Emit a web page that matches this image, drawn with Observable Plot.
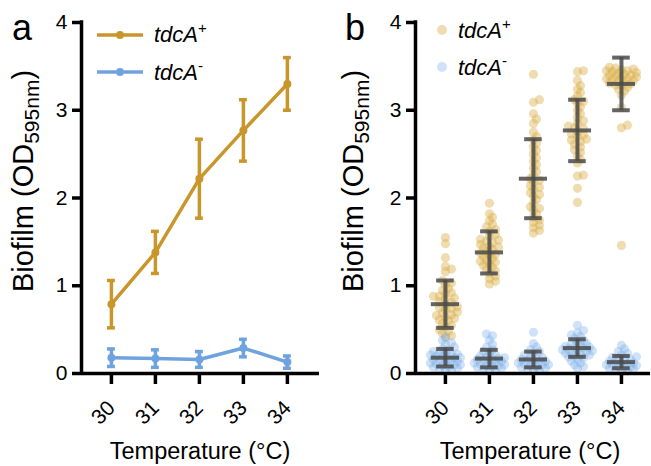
<!DOCTYPE html>
<html><head><meta charset="utf-8">
<script src="https://cdn.jsdelivr.net/npm/d3@7"></script>
<script src="https://cdn.jsdelivr.net/npm/@observablehq/plot@0.6"></script>
<style>
body{margin:0;background:#fff;font-family:"Liberation Sans",Arial,sans-serif;}
#wrap{position:relative;width:651px;height:466px;overflow:hidden;}
#wrap > svg{position:absolute;top:0;}
</style></head><body><div id="wrap"></div>
<script>
// ---- data ----
const temps = [30, 31, 32, 33, 34];
const tempLabels = ["30", "31", "32", "33", "34"];
const yTicks = [0, 1, 2, 3, 4];
const meanPlus = [0.79, 1.38, 2.22, 2.77, 3.30];
const sdPlus = [0.27, 0.24, 0.45, 0.35, 0.30];
const meanMinus = [0.18, 0.17, 0.16, 0.29, 0.13];
const sdMinus = [0.10, 0.10, 0.09, 0.10, 0.07];
const seriesNames = ["tdcA", "tdcA"];
const seriesSup = ["+", "-"];
const xLabel = "Temperature (°C)";
const yLabelMain = "Biofilm (OD";
const yLabelSub = "595nm";

// individual replicates (panel b)
const plus30 = [1.55,1.48,1.32,1.22,1.19,1.16,1.06,1.03,1.01,0.97,0.95,0.92,0.91,0.88,0.86,0.85,0.82,0.81,0.79,0.76,0.75,0.73,0.70,0.69,0.67,0.66,0.63,0.61,0.60,0.57,0.55,0.53,0.50,0.48,0.46,0.43,0.41,0.88,0.74,0.64];
const plus31 = [1.94,1.82,1.78,1.74,1.70,1.67,1.64,1.62,1.58,1.56,1.53,1.51,1.49,1.47,1.45,1.43,1.41,1.39,1.37,1.35,1.33,1.31,1.29,1.27,1.25,1.23,1.21,1.19,1.17,1.14,1.11,1.08,1.05,1.02,1.44,1.36,1.28,1.52];
const plus32 = [3.41,3.12,3.09,2.96,2.90,2.85,2.75,2.70,2.66,2.62,2.58,2.54,2.50,2.46,2.42,2.38,2.34,2.30,2.26,2.22,2.18,2.14,2.10,2.06,2.02,1.98,1.94,1.90,1.86,1.82,1.78,1.75,1.72,1.69,1.66,1.63,1.60,2.20,2.12,2.04,1.88];
const plus33 = [3.45,3.44,3.34,3.28,3.24,3.20,3.16,3.12,3.08,3.04,3.00,2.96,2.92,2.88,2.85,2.82,2.79,2.76,2.73,2.70,2.67,2.64,2.61,2.58,2.55,2.52,2.48,2.44,2.40,2.26,2.25,2.11,1.95,2.80,2.72,2.66,3.10];
const plus34 = [3.49,3.48,3.47,3.46,3.45,3.44,3.43,3.42,3.41,3.40,3.39,3.38,3.37,3.36,3.35,3.34,3.33,3.32,3.31,3.30,3.29,3.28,3.26,3.24,3.22,3.17,3.03,2.83,2.80,1.46,3.45,3.40,3.36];
const minus30 = [0.42,0.38,0.35,0.33,0.30,0.28,0.27,0.25,0.24,0.23,0.22,0.21,0.20,0.19,0.18,0.17,0.16,0.15,0.14,0.13,0.12,0.11,0.10,0.09,0.08,0.07,0.06,0.05,0.04,0.03,0.22,0.18,0.14,0.10];
const minus31 = [0.45,0.43,0.38,0.33,0.30,0.27,0.25,0.23,0.21,0.20,0.19,0.18,0.17,0.16,0.15,0.14,0.13,0.12,0.11,0.10,0.09,0.08,0.07,0.06,0.05,0.04,0.03,0.16,0.12,0.09];
const minus32 = [0.47,0.34,0.30,0.27,0.25,0.23,0.21,0.19,0.18,0.17,0.16,0.15,0.14,0.13,0.12,0.11,0.10,0.09,0.08,0.07,0.06,0.05,0.04,0.03,0.14,0.10];
const minus33 = [0.55,0.49,0.46,0.44,0.42,0.40,0.38,0.36,0.34,0.33,0.32,0.31,0.30,0.29,0.28,0.27,0.26,0.25,0.24,0.23,0.22,0.21,0.20,0.19,0.18,0.16,0.14,0.12,0.10,0.08,0.06,0.30,0.26];
const minus34 = [0.32,0.28,0.25,0.23,0.21,0.19,0.18,0.17,0.16,0.15,0.14,0.13,0.12,0.11,0.10,0.09,0.08,0.07,0.06,0.05,0.04,0.03,0.02,0.12,0.10,0.08];
const plusReps = [plus30, plus31, plus32, plus33, plus34];
const minusReps = [minus30, minus31, minus32, minus33, minus34];

// ---- styles ----
const GOLD = "#C9962B", BLUE = "#6FA3E0";
const GOLD_PT = "#D6AA3C", BLUE_PT = "#7AAFEA";
const BAR = "#4a4a4a";
const AX = 3.5;
const FONT = "Liberation Sans, Arial, sans-serif";

const summary = (means, sds) => temps.map((t, i) => ({t, m: means[i], s: sds[i]}));
const sumPlus = summary(meanPlus, sdPlus);
const sumMinus = summary(meanMinus, sdMinus);
const xTickData = temps.map((t, i) => ({t, label: tempLabels[i]}));

function baseMarks(xDom) {
  return [
    Plot.ruleX([xDom[0]], {y1: 0, y2: 4, strokeWidth: AX, strokeLinecap: "square"}),
    Plot.ruleY([0], {x1: xDom[0], x2: xDom[1], strokeWidth: AX}),
    Plot.axisY(yTicks, {tickSize: 9, strokeWidth: AX, tickPadding: 5, label: null, tickFormat: d => String(d), fontSize: 21, fill: "#000"}),
    Plot.axisX(temps, {tickSize: 11, strokeWidth: AX, label: null, tickFormat: () => ""}),
    Plot.text(xTickData, {x: "t", y: () => 0, text: "label", rotate: -45, textAnchor: "end", lineAnchor: "middle",
      dx: 0, dy: 31, fontSize: 21, fill: "#000"})
  ];
}

function addText(svg, panelLetter, legend) {
  const s = d3.select(svg);
  s.append("text").attr("x", panelLetter.x).attr("y", 40).attr("font-size", 36).attr("fill", "#000")
    .attr("text-anchor", "start").attr("font-family", FONT).text(panelLetter.t);
  const yl = s.append("text").attr("transform", "translate(33,181) rotate(-90)")
    .attr("text-anchor", "middle").attr("font-size", 29).attr("fill", "#000")
    .attr("font-family", FONT);
  yl.append("tspan").text(yLabelMain);
  yl.append("tspan").attr("font-size", 21).attr("dy", 6).text(yLabelSub);
  yl.append("tspan").attr("dy", -6).text(")");
  s.append("text").attr("x", 200).attr("y", 459).attr("text-anchor", "middle").attr("font-size", 23.5)
    .attr("fill", "#000").attr("font-family", FONT).text(xLabel);
  legend(s);
}

function legendText(s, x, y, i) {
  const t = s.append("text").attr("x", x).attr("y", y).attr("font-size", 22).attr("font-style", "italic")
    .attr("text-anchor", "start").attr("fill", "#000").attr("font-family", FONT);
  t.append("tspan").text(seriesNames[i]);
  t.append("tspan").attr("font-size", 15).attr("dy", -9).attr("font-style", "normal").text(seriesSup[i]);
}

const wrap = document.getElementById("wrap");

// ---- panel a ----
{
  const W = 330, H = 466, ml = 81, mr = 11, mt = 22, mb = 93;
  const xDom = [29.32, 34.73];
  const cap = 0.09;
  const serieMarks = (d, c) => [
    Plot.line(d, {x: "t", y: "m", stroke: c, strokeWidth: 3.5}),
    Plot.ruleX(d, {x: "t", y1: v => v.m - v.s, y2: v => v.m + v.s, stroke: c, strokeWidth: 3.5}),
    Plot.ruleY(d, {y: v => v.m + v.s, x1: v => v.t - cap, x2: v => v.t + cap, stroke: c, strokeWidth: 3.5}),
    Plot.ruleY(d, {y: v => v.m - v.s, x1: v => v.t - cap, x2: v => v.t + cap, stroke: c, strokeWidth: 3.5}),
    Plot.dot(d, {x: "t", y: "m", r: 4, fill: c})
  ];
  const chart = Plot.plot({
    width: W, height: H, marginLeft: ml, marginRight: mr, marginTop: mt, marginBottom: mb,
    style: {background: "transparent", fontFamily: FONT, color: "#000"},
    x: {domain: xDom}, y: {domain: [0, 4]},
    marks: [
      ...baseMarks(xDom),
      ...serieMarks(sumMinus, BLUE),
      ...serieMarks(sumPlus, GOLD)
    ]
  });
  chart.style.left = "0px";
  wrap.appendChild(chart);
  addText(chart, {x: 12, t: "a"}, s => {
    [[GOLD, 35, 42], [BLUE, 72, 80]].forEach(([c, ly, ty], i) => {
      s.append("line").attr("x1", 97).attr("x2", 143).attr("y1", ly).attr("y2", ly).attr("stroke", c).attr("stroke-width", 3.5);
      s.append("circle").attr("cx", 120).attr("cy", ly).attr("r", 4).attr("fill", c);
      legendText(s, 154, ty, i);
    });
  });
}

// ---- panel b ----
{
  const W = 321, H = 466, ml = 85, mr = 1, mt = 22, mb = 93;
  const xDom = [29.32, 34.66];
  const pxX = (W - ml - mr) / (xDom[1] - xDom[0]);
  const pxY = (H - mt - mb) / 4;
  function swarm(values, t, g) {
    const sorted = values.map(v => ({v, t, g})).sort((a, b) => a.v - b.v);
    const placed = [];
    const step = 3, minD = 4.6, maxOff = 15;
    for (const p of sorted) {
      const py = p.v * pxY;
      let best = 0, bestD = -1;
      for (let k = 0; k < 40; k++) {
        const cand = (k % 2 === 1 ? 1 : -1) * Math.ceil(k / 2) * step;
        if (Math.abs(cand) > maxOff) break;
        const d = placed.length ? Math.min(...placed.map(q => Math.hypot(q.x - cand, q.y - py))) : Infinity;
        if (d >= minD) { best = cand; bestD = d; break; }
        if (d > bestD) { bestD = d; best = cand; }
      }
      placed.push({x: best, y: py});
      p.xj = t + best / pxX;
    }
    return sorted;
  }
  const ptsPlus = temps.flatMap((t, i) => swarm(plusReps[i], t, "+"));
  const ptsMinus = temps.flatMap((t, i) => swarm(minusReps[i], t, "-"));
  const cap = 0.2, meanW = 0.32;
  const barMarks = d => [
    Plot.ruleX(d, {x: "t", y1: v => v.m - v.s, y2: v => v.m + v.s, stroke: BAR, strokeWidth: 4, strokeOpacity: 0.85}),
    Plot.ruleY(d, {y: v => v.m + v.s, x1: v => v.t - cap, x2: v => v.t + cap, stroke: BAR, strokeWidth: 4, strokeOpacity: 0.85}),
    Plot.ruleY(d, {y: v => v.m - v.s, x1: v => v.t - cap, x2: v => v.t + cap, stroke: BAR, strokeWidth: 4, strokeOpacity: 0.85}),
    Plot.ruleY(d, {y: "m", x1: v => v.t - meanW, x2: v => v.t + meanW, stroke: BAR, strokeWidth: 4, strokeOpacity: 0.85})
  ];
  const chart = Plot.plot({
    width: W, height: H, marginLeft: ml, marginRight: mr, marginTop: mt, marginBottom: mb,
    style: {background: "transparent", fontFamily: FONT, color: "#000"},
    x: {domain: xDom}, y: {domain: [0, 4]},
    marks: [
      Plot.dot(ptsPlus, {x: "xj", y: "v", r: 4.6, fill: GOLD_PT, fillOpacity: 0.4}),
      Plot.dot(ptsMinus, {x: "xj", y: "v", r: 4.6, fill: BLUE_PT, fillOpacity: 0.36}),
      ...baseMarks(xDom),
      ...barMarks(sumPlus),
      ...barMarks(sumMinus)
    ]
  });
  chart.style.left = "330px";
  wrap.appendChild(chart);
  addText(chart, {x: 15, t: "b"}, s => {
    [[GOLD_PT, 0.4, 30, 38], [BLUE_PT, 0.36, 67, 75]].forEach(([c, o, ly, ty], i) => {
      s.append("circle").attr("cx", 112).attr("cy", ly).attr("r", 5).attr("fill", c).attr("fill-opacity", o);
      legendText(s, 128, ty, i);
    });
  });
}
</script></body></html>
